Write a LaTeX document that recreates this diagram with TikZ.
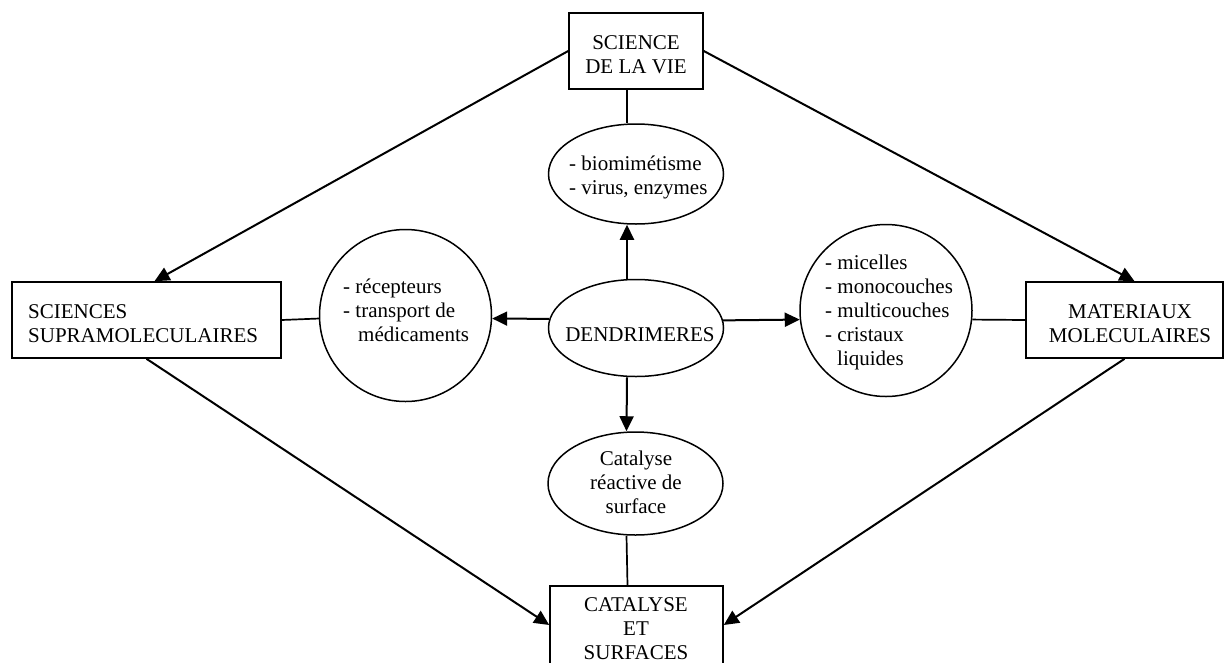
\documentclass[tikz,border=0pt]{standalone}
\usepackage{fontspec}
\setmainfont{Liberation Serif}
\usetikzlibrary{arrows.meta,shapes.geometric}
\begin{document}
\begin{tikzpicture}[x=1pt,y=-1pt,
  box/.style={draw,line width=1.6pt,rectangle,inner sep=0pt},
  ell/.style={draw,line width=1.5pt,ellipse,inner sep=0pt,minimum width=175pt},
  circ/.style={draw,line width=1.5pt,circle,inner sep=0pt,minimum size=172pt},
  txt/.style={inner sep=0pt,font=\fontsize{21}{24}\selectfont},
  arr/.style={line width=2pt,-{Triangle[length=15pt,width=14pt]}},
  con/.style={line width=1.7pt}]
\useasboundingbox (0,0) rectangle (1229,662);
% shapes
\node[box,minimum width=134pt,minimum height=76pt] (sv) at (636,51) {};
\node[box,minimum width=269pt,minimum height=76pt] (ss) at (146.5,320) {};
\node[box,minimum width=197pt,minimum height=76pt] (mat) at (1124.5,320) {};
\node[box,minimum width=173pt,minimum height=86pt] (cat) at (636.5,629) {};
\node[ell,minimum height=100pt] (bio) at (636,174) {};
\node[ell,minimum height=97pt] (dend) at (636,328) {};
\node[ell,minimum height=103pt] (catell) at (635.5,483.5) {};
\node[circ] (rec) at (405.5,315.5) {};
\node[circ] (mic) at (886,310.5) {};
% texts
\node[txt,align=center] (svt) at (636,55) {SCIENCE\\DE LA VIE};
\node[txt,align=left,anchor=west] (sst) at (28,324) {SCIENCES\\SUPRAMOLECULAIRES};
\node[txt,align=center] (matt) at (1130,324) {MATERIAUX\\MOLECULAIRES};
\node[txt,align=center] (catt) at (636,629) {CATALYSE\\ET\\SURFACES};
\node[txt,align=left,anchor=west] (biot) at (569,177) {- biomimétisme\\- virus, enzymes};
\node[txt] (dendt) at (640,335) {DENDRIMERES};
\node[txt,align=center] (catellt) at (636,482) {Catalyse\\réactive de\\surface};
\node[txt,align=left,anchor=west] (rect) at (343,310) {- récepteurs\\- transport de\\\hspace*{15pt}médicaments};
\node[txt,align=left,anchor=west] (mict) at (825,312) {- micelles\\- monocouches\\- multicouches\\- cristaux\\\hspace*{12pt}liquides};
% big arrows
\draw[arr] (sv.west) -- ([xshift=8pt]ss.north);
\draw[arr] (sv.east) -- ([xshift=10pt]mat.north);
\draw[arr] (ss.south) -- ([yshift=4pt]cat.west);
\draw[arr] (mat.south) -- ([yshift=4pt]cat.east);
% central arrows
\draw[arr] ([xshift=-9pt]dend.north) -- ([xshift=-9pt]bio.south);
\draw[arr] ([xshift=-9pt]dend.south) -- ([xshift=-9pt]catell.north);
\draw[arr] (dend.174.7) -- (rec.-2.7);
\draw[arr] (dend.5.3) -- (mic.186);
% plain connectors
\draw[con] ([xshift=-9pt]sv.south) -- ([xshift=-9pt]bio.north);
\draw[con] ([xshift=-9pt]catell.south) -- ([xshift=-9pt]cat.north);
\draw[con] (ss.east) -- (rec.182.7);
\draw[con] (mic.-6) -- (mat.west);
\end{tikzpicture}
\end{document}
